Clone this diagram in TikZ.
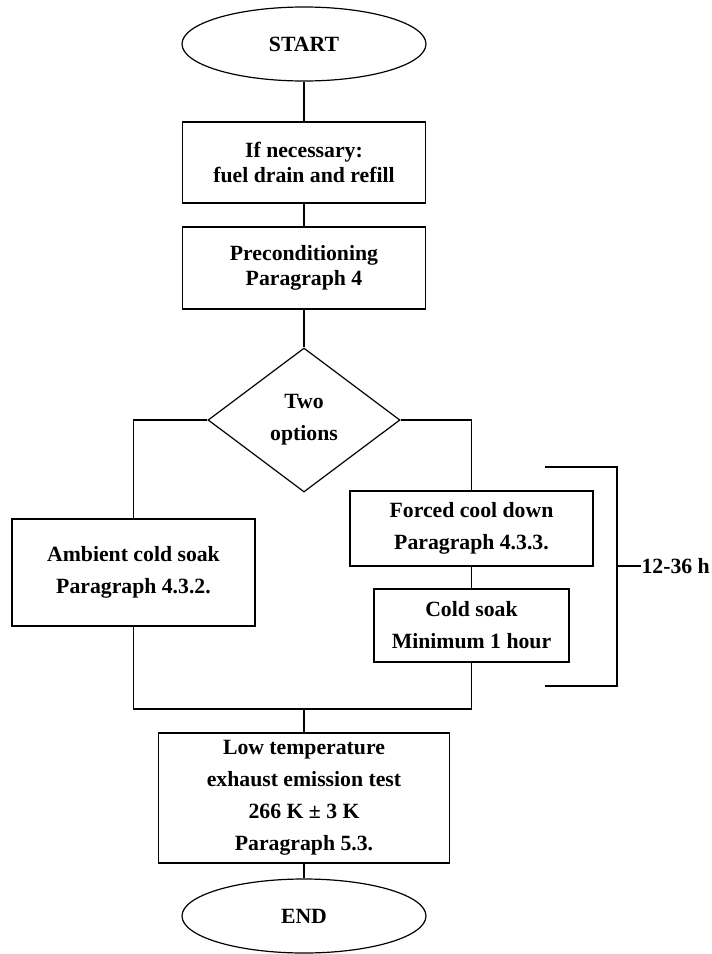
\documentclass[tikz,border=0pt]{standalone}
\usepackage{fontspec}
\setmainfont{Liberation Serif}
\usepackage{tikz}
\usetikzlibrary{shapes.geometric}

\begin{document}
\begin{tikzpicture}[x=0.75pt,y=-0.75pt,line width=0.9pt,
        every node/.style={font=\bfseries\fontsize{16.3}{18.75}\selectfont,align=center},
        loose/.style={font=\bfseries\fontsize{16.3}{24}\selectfont},
        terminal/.style={draw,ellipse,minimum width=183pt,minimum height=55.5pt},
        stepbox/.style={draw,rectangle,minimum width=182.25pt},
        choice/.style={draw,diamond,minimum width=144pt,minimum height=108pt,inner sep=0pt}]
        \useasboundingbox (0,0) rectangle (712,954);

        \node[terminal] (start) at (304,44) {START};
        \node[stepbox,minimum height=60.75pt] (drain) at (304,162.5) {If necessary:\\fuel drain and refill};
        \node[stepbox,minimum height=61.5pt] (precond) at (304,268) {Preconditioning\\Paragraph 4};
        \node[choice,loose] (options) at (304,420) {Two\\options};
        \node[stepbox,loose,minimum height=80.25pt] (ambient) at (133.5,572.5) {Ambient cold soak\\Paragraph 4.3.2.};
        \node[stepbox,loose,minimum height=56.25pt] (forced) at (471.5,528.5) {Forced cool down\\Paragraph 4.3.3.};
        \node[stepbox,loose,minimum width=146.25pt,minimum height=54.75pt] (coldsoak) at (471.5,625.5) {Cold soak\\Minimum 1 hour};
        \node[stepbox,loose,minimum width=218.25pt,minimum height=97.5pt] (lowtemp) at (304,798) {Low temperature\\exhaust emission test\\266 K ± 3 K\\Paragraph 5.3.};
        \node[terminal] (end) at (304,916) {END};

        \draw (start) -- (drain);
        \draw (drain) -- (precond);
        \draw (precond) -- (options);
        \draw (options.west) -| (ambient.north);
        \draw (options.east) -| (forced.north);
        \draw (forced) -- (coldsoak);
        \coordinate (join) at (304,709);
        \draw (ambient.south) |- (join) -| (coldsoak.south);
        \draw (join) -- (lowtemp);
        \draw (lowtemp) -- (end);

        \coordinate (spantop) at (545,467);
        \coordinate (spanbot) at (545,686);
        \draw (spantop) -- ++(72,0) |- (spanbot);
        \node[anchor=west,inner sep=0pt] (span) at (641,566) {12-36 h};
        \draw (span.west) -- ++(-24,0);
    \end{tikzpicture}
\end{document}
